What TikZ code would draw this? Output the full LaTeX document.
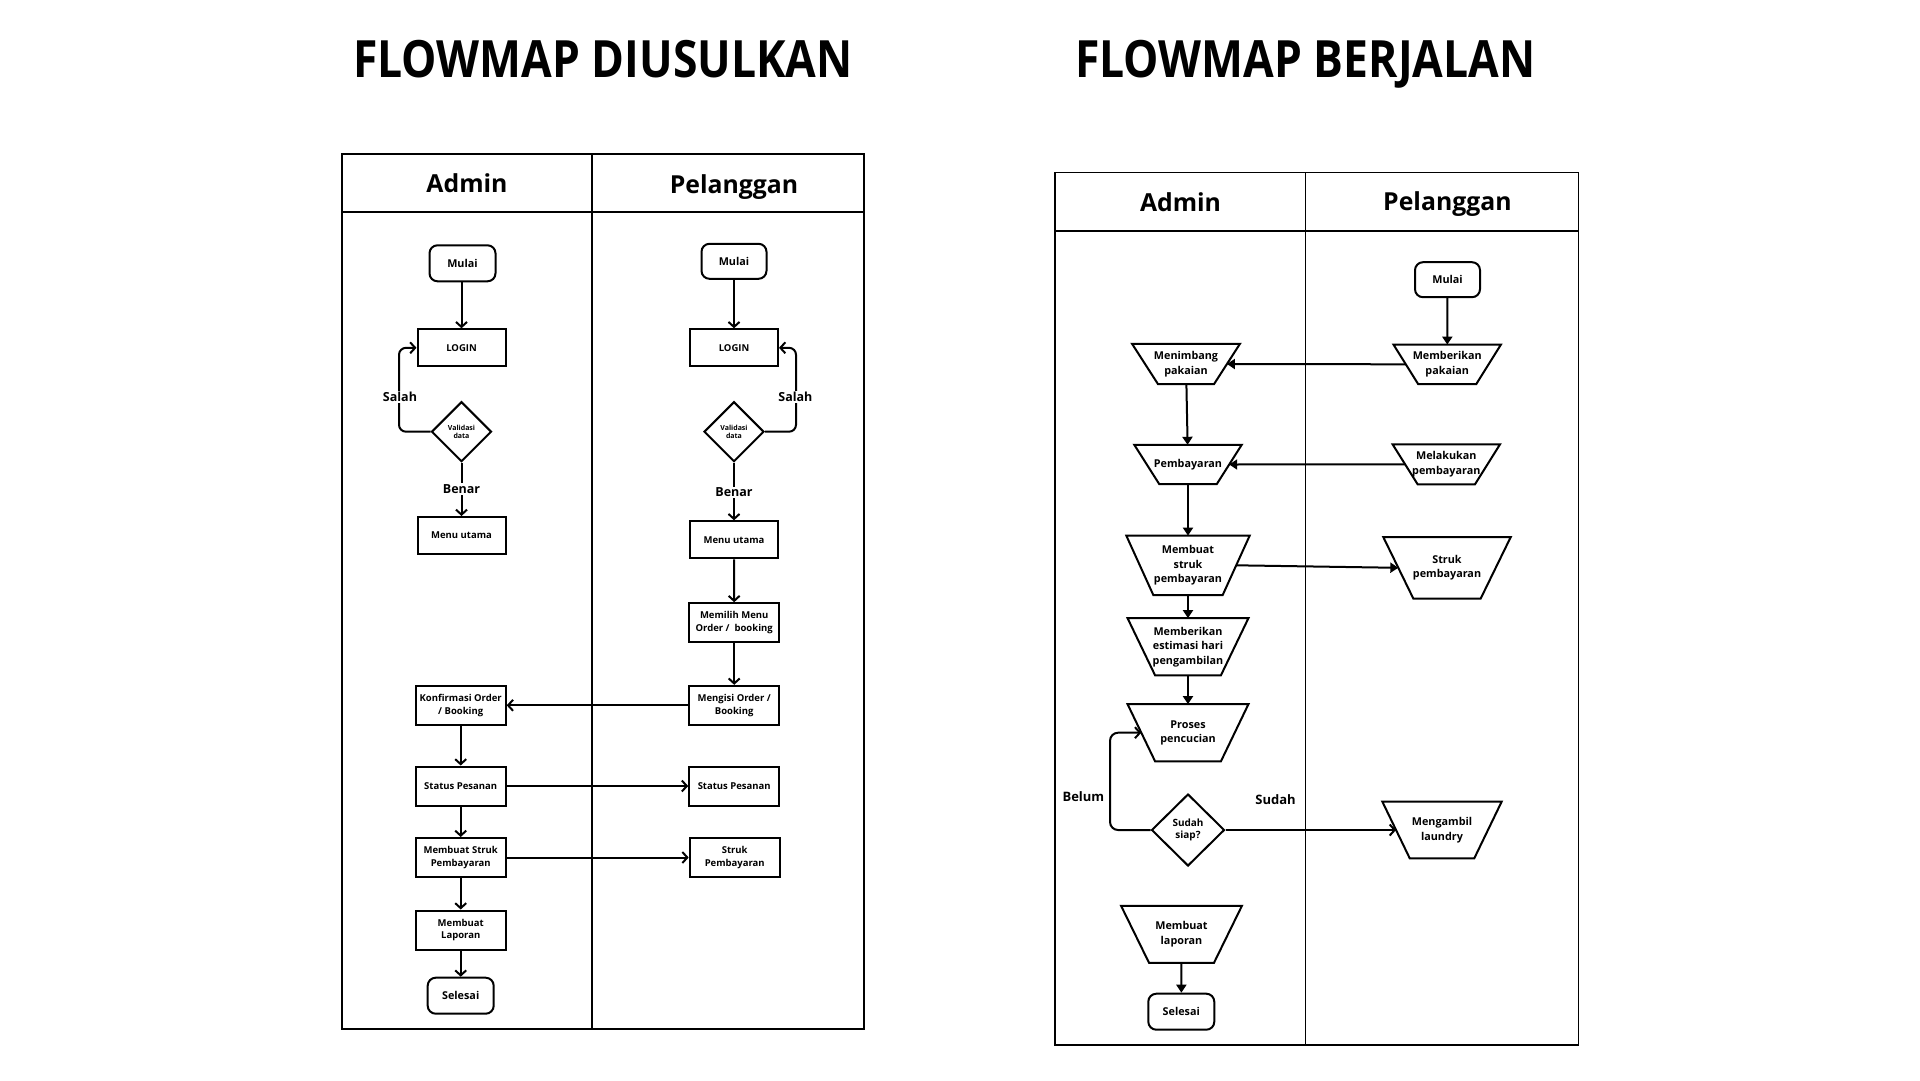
\documentclass[tikz,border=0pt]{standalone}
\usepackage{fontspec}
\setmainfont{Open Sans}
\newfontfamily\titlefont[FakeStretch=0.865]{Open Sans}
\usetikzlibrary{arrows.meta,shapes.geometric}
\newcommand\trapdraw[2]{\draw[line width=2pt, line join=miter] (#1.north west) -- (#1.north east) -- ([xshift=-#2pt]#1.south east) -- ([xshift=#2pt]#1.south west) -- cycle;}
\tikzset{
  lane/.style={line width=1.7pt},
  proc/.style={draw, line width=2pt, inner sep=1pt, align=center, font=\fontsize{9.5}{12.5}\selectfont\bfseries},
  term/.style={proc, rounded corners=8pt, font=\fontsize{10.8}{13}\selectfont\bfseries},
  dec/.style={draw, diamond, line width=2pt, inner sep=0pt, align=center, font=\fontsize{7}{8.5}\selectfont\bfseries},
  ttext/.style={inner sep=0pt, align=center, font=\fontsize{10.8}{14.5}\selectfont\bfseries},
  lanehead/.style={font=\fontsize{24.8}{28}\selectfont\bfseries},
  title/.style={anchor=base, font=\fontsize{51.4}{56}\titlefont\bfseries},
  lbl/.style={fill=white, inner sep=1pt, font=\fontsize{12.5}{14}\selectfont\bfseries},
  flow/.style={line width=2pt, -{Straight Barb[length=5pt,width=11pt]}},
  flowf/.style={line width=2pt, -{Triangle[length=8pt,width=10pt]}}
}
\begin{document}
\begin{tikzpicture}[x=1pt,y=-1pt]
\useasboundingbox (0,0) rectangle (1920,1080);
\fill[white] (0,0) rectangle (1920,1080);

% titles
\node[title] (t1) at (603,77.1) {FLOWMAP DIUSULKAN};
\node[title] (t2) at (1305.3,77.1) {FLOWMAP BERJALAN};

% ===== left table =====
\draw[lane] (342,154) rectangle (864,1029);
\draw[lane] (342,212) -- (864,212);
\draw[lane] (592,154) -- (592,1029);
\node[lanehead] (ha1) at (467,183.3) {Admin};
\node[lanehead] (hp1) at (734,186.7) {Pelanggan};

\node[term, minimum width=66, minimum height=36] (m1) at (462.5,263.3) {Mulai};
\node[proc, minimum width=88, minimum height=37] (l1) at (461.5,347.8) {LOGIN};
\node[dec, minimum width=60, minimum height=60] (v1) at (461.5,431.7) {Validasi\\data};
\node[proc, minimum width=88, minimum height=37] (u1) at (461.5,535.5) {Menu utama};
\node[proc, minimum width=90, minimum height=39] (k1) at (460.7,705.3) {Konfirmasi Order\\/ Booking};
\node[proc, minimum width=90, minimum height=39] (s1) at (460.7,786) {Status Pesanan};
\node[proc, minimum width=90, minimum height=39] (b1) at (460.7,857.5) {Membuat Struk\\Pembayaran};
\node[proc, minimum width=90, minimum height=39] (r1) at (460.7,930) {Membuat\\Laporan};
\node[term, minimum width=66, minimum height=36] (e1) at (460.7,995.7) {Selesai};

\node[term, minimum width=65, minimum height=35] (m2) at (734,261.3) {Mulai};
\node[proc, minimum width=88, minimum height=37] (l2) at (734,347.8) {LOGIN};
\node[dec, minimum width=60, minimum height=60] (v2) at (734,431.7) {Validasi\\data};
\node[proc, minimum width=88, minimum height=37] (u2) at (734,539.8) {Menu utama};
\node[proc, minimum width=90, minimum height=39] (p2) at (734.2,622.7) {Memilih Menu\\Order /\ \ booking};
\node[proc, minimum width=90, minimum height=39] (o2) at (734.2,705.3) {Mengisi Order /\\Booking};
\node[proc, minimum width=90, minimum height=39] (s2) at (734.2,786) {Status Pesanan};
\node[proc, minimum width=90, minimum height=39] (t2b) at (734.7,857.5) {Struk\\Pembayaran};

\draw[flow] (m1.south -| l1.north) -- (l1.north);
\draw[flow, rounded corners=7pt] (v1.west) -| ([xshift=-17.5pt]l1.west) -- (l1.west);
\node[lbl] (sa1) at (400,397.3) {Salah};
\draw[flow] (v1) -- (u1);
\node[lbl] (be1) at (461.5,489) {Benar};

\draw[flow] (m2) -- (l2);
\draw[flow, rounded corners=7pt] (v2.east) -| ([xshift=17pt]l2.east) -- (l2.east);
\node[lbl] (sa2) at (795.4,397.3) {Salah};
\draw[flow] (v2) -- (u2);
\node[lbl] (be2) at (734,492.3) {Benar};
\draw[flow] (u2) -- (p2);
\draw[flow] (p2) -- (o2);
\draw[flow] (o2) -- (k1);
\draw[flow] (k1) -- (s1);
\draw[flow] (s1) -- (b1);
\draw[flow] (b1) -- (r1);
\draw[flow] (r1) -- (e1);
\draw[flow] (s1) -- (s2);
\draw[flow] (b1) -- (t2b);

% ===== right table =====
\draw[lane] (1055,172.5) rectangle (1578.6,1045);
\draw[lane] (1055,231.3) -- (1578.6,231.3);
\draw[lane] (1305.5,172.5) -- (1305.5,1045);
\node[lanehead] (ha2) at (1180.5,201.7) {Admin};
\node[lanehead] (hp2) at (1447.4,204.3) {Pelanggan};

\node[term, minimum width=65, minimum height=35] (m3) at (1447.5,279.7) {Mulai};
\node[ttext, minimum width=107, minimum height=39] (mp) at (1447.2,364.3) {Memberikan\\pakaian};
\trapdraw{mp}{24.6}
\node[ttext, minimum width=107, minimum height=39.5] (ml) at (1446.3,464.3) {Melakukan\\pembayaran};
\trapdraw{ml}{25}
\node[ttext, minimum width=127, minimum height=61] (sp) at (1447,567.8) {Struk\\pembayaran};
\trapdraw{sp}{30}
\node[ttext, minimum width=119, minimum height=56.5] (ma) at (1442,830) {Mengambil\\laundry};
\trapdraw{ma}{27.5}

\node[ttext, minimum width=107.5, minimum height=40] (mn) at (1186,364) {Menimbang\\pakaian};
\trapdraw{mn}{26}
\node[ttext, minimum width=107, minimum height=39] (pb) at (1188,464.5) {Pembayaran};
\trapdraw{pb}{25}
\node[ttext, minimum width=123, minimum height=59] (ms) at (1188,565.3) {Membuat\\struk\\pembayaran};
\trapdraw{ms}{27}
\node[ttext, minimum width=120.5, minimum height=56.7] (me) at (1188,646.7) {Memberikan\\estimasi hari\\pengambilan};
\trapdraw{me}{27.5}
\node[ttext, minimum width=120.5, minimum height=56.7] (pc) at (1188,732.7) {Proses\\pencucian};
\trapdraw{pc}{27.5}
\node[dec, minimum width=73, minimum height=72, font=\fontsize{10}{12.5}\selectfont\bfseries] (ss) at (1188,830) {Sudah\\siap?};
\node[ttext, minimum width=120.5, minimum height=56.7] (ls) at (1181.5,934.3) {Membuat\\laporan};
\trapdraw{ls}{28}
\node[term, minimum width=66, minimum height=36] (es) at (1181.3,1011.7) {Selesai};

\draw[flowf] (m3) -- (mp);
\draw[flowf] ([xshift=12.3pt]mp.west) -- ([xshift=-13pt]mn.east);
\draw[flowf] (mn) -- (pb);
\draw[flowf] ([xshift=12.5pt]ml.west) -- ([xshift=-12.5pt]pb.east);
\draw[flowf] (pb) -- (ms);
\draw[flowf] ([xshift=-13.5pt]ms.east) -- ([xshift=15pt]sp.west);
\draw[flowf] (ms) -- (me);
\draw[flowf] (me) -- (pc);
\draw[flow, rounded corners=8pt] (ss.west) -| ([xshift=-17.5pt]pc.west) -- ([xshift=13.75pt]pc.west);
\node[font=\fontsize{13}{15}\selectfont\bfseries] (bl) at (1083.4,796.7) {Belum};
\draw[flow] (ss.east) -- ([xshift=13.75pt]ma.west);
\node[font=\fontsize{13}{15}\selectfont\bfseries] (sd) at (1275.5,800) {Sudah};
\draw[flowf] (ls) -- (es);
\end{tikzpicture}
\end{document}
